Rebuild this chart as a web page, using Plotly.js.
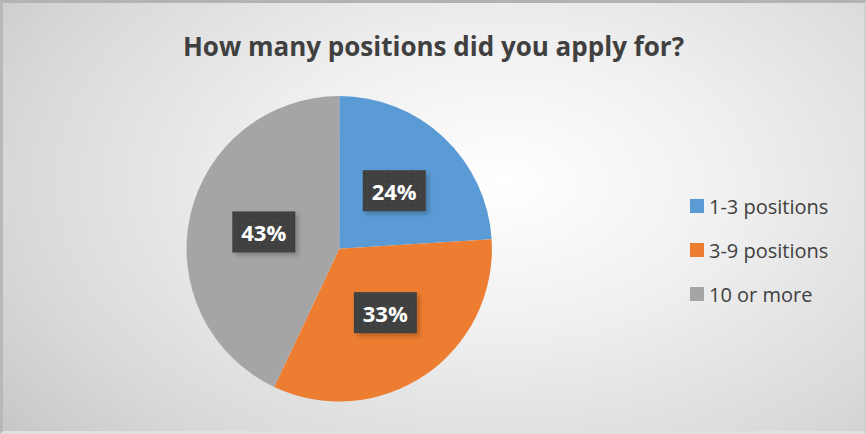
<!DOCTYPE html>
<html>
<head>
<meta charset="utf-8">
<script src="https://cdn.plot.ly/plotly-3.0.1.min.js"></script>
<style>
html,body{margin:0;padding:0;background:#ffffff;}
#chart{width:866px;height:434px;box-sizing:border-box;
  background:radial-gradient(ellipse 75% 95% at 58% 42%, #ffffff 0%, #f0f0f0 35%, #d9d9d9 75%, #c6c6c6 100%);
  border-top:3px solid #b3b3b3;border-left:3px solid #b8b8b8;border-right:2px solid #d0d0d0;border-bottom:3px solid #e0e0e0;}
</style>
</head>
<body>
<div id="chart"></div>
<script>
var categories = ["1-3 positions", "3-9 positions", "10 or more"];
var values = [24, 33, 43];
var colors = ["#5B9BD5", "#ED7D31", "#A5A5A5"];
var chartTitle = "How many positions did you apply for?";

var trace = {
  type: "pie",
  labels: categories,
  values: values,
  sort: false,
  direction: "clockwise",
  rotation: 0,
  marker: {colors: colors, line: {width: 0}},
  textinfo: "percent",
  texttemplate: "%{percent:.0%}",
  textposition: "inside",
  insidetextorientation: "horizontal",
  insidetextfont: {family: "Open Sans, Lato, sans-serif", size: 22, color: "#ffffff", weight: "bold"},
  domain: {x: [0.2115, 0.5695], y: [0.069, 0.7825]},
  hoverinfo: "none"
};

var layout = {
  width: 861, height: 428,
  margin: {l: 0, r: 0, t: 0, b: 0},
  paper_bgcolor: "rgba(0,0,0,0)",
  plot_bgcolor: "rgba(0,0,0,0)",
  title: {text: "<b>" + chartTitle + "</b>", x: 0.5, xanchor: "center", y: 0.897, yanchor: "middle",
    font: {family: "Open Sans, Lato, sans-serif", size: 26, color: "#404040"}},
  showlegend: true,
  legend: {x: 0.79, xanchor: "left", y: 0.56, yanchor: "middle", bgcolor: "rgba(0,0,0,0)",
    font: {family: "Open Sans, Lato, sans-serif", size: 20, color: "#404040"},
    itemwidth: 30, tracegroupgap: 0, traceorder: "normal"}
};

Plotly.newPlot("chart", [trace], layout, {displayModeBar: false, staticPlot: true}).then(function(gd){
  var svg = gd.querySelector(".main-svg");
  var ns = "http://www.w3.org/2000/svg";
  var defs = svg.querySelector("defs");
  var pat = document.createElementNS(ns, "pattern");
  pat.setAttribute("id", "dots"); pat.setAttribute("width", "6"); pat.setAttribute("height", "6");
  pat.setAttribute("patternUnits", "userSpaceOnUse");
  var pr = document.createElementNS(ns, "rect");
  pr.setAttribute("width", "6"); pr.setAttribute("height", "6"); pr.setAttribute("fill", "#404040");
  pat.appendChild(pr);
  var pc = document.createElementNS(ns, "rect");
  pc.setAttribute("x", "2"); pc.setAttribute("y", "2"); pc.setAttribute("width", "1.2"); pc.setAttribute("height", "1.2");
  pc.setAttribute("fill", "#555555");
  pat.appendChild(pc);
  defs.appendChild(pat);
  var shifts = [[-7, 8], [0, -4], [0, 0]];
  var texts = gd.querySelectorAll("g.slicetext");
  texts.forEach(function(g, i){
    var t = g.querySelector("text");
    var tr = t.getAttribute("transform") || "";
    var s = shifts[i] || [0, 0];
    g.setAttribute("transform", "translate(" + s[0] + "," + s[1] + ")");
    var bb = t.getBBox();
    var cx = bb.x + bb.width/2, cy = bb.y + bb.height/2;
    var w = 63, h = 41;
    var sh = document.createElementNS(ns, "rect");
    sh.setAttribute("x", cx - w/2 + 3); sh.setAttribute("y", cy - h/2 + 3);
    sh.setAttribute("width", w); sh.setAttribute("height", h);
    sh.setAttribute("fill", "rgba(0,0,0,0.22)");
    sh.setAttribute("transform", tr);
    sh.style.filter = "blur(2px)";
    var r = document.createElementNS(ns, "rect");
    r.setAttribute("x", cx - w/2); r.setAttribute("y", cy - h/2);
    r.setAttribute("width", w); r.setAttribute("height", h);
    r.setAttribute("fill", "url(#dots)");
    r.setAttribute("transform", tr);
    g.insertBefore(sh, t);
    g.insertBefore(r, t);
  });
  var leg = gd.querySelector("g.legend");
  leg.setAttribute("transform", "translate(674,0)");
  var sb = leg.querySelector(".scrollbox");
  if (sb) { sb.removeAttribute("clip-path"); sb.setAttribute("transform", "translate(0,0)"); }
  leg.querySelectorAll("g.traces").forEach(function(item, i){
    item.setAttribute("transform", "translate(0," + (203 + i*44) + ")");
    var p = item.querySelector(".legendpoints path");
    if (p) { p.setAttribute("d", "M-7,-7h14v14h-14z"); }
    var tx = item.querySelector("text.legendtext");
    if (tx) tx.setAttribute("x", "32");
  });
});
</script>
</body>
</html>
